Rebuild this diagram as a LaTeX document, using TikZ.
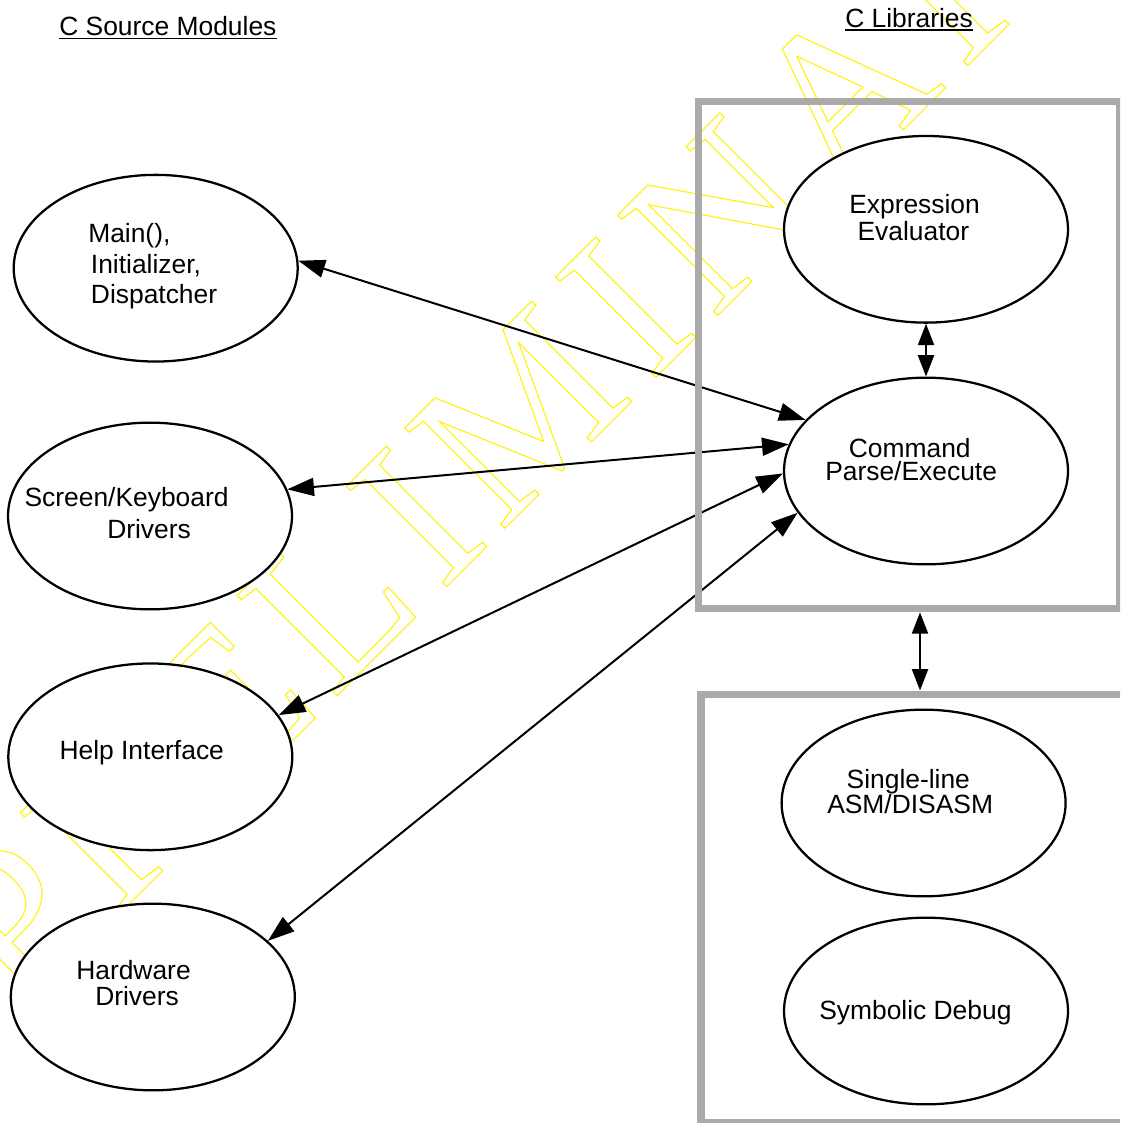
\documentclass[tikz,border=0pt]{standalone}
\usepackage{fontspec}
\setmainfont{Liberation Sans}
\newfontfamily\wmfont{Liberation Serif}
\usetikzlibrary{arrows.meta,shapes.geometric}
\definecolor{boxgray}{RGB}{170,170,170}
\newcommand\wmletter[1]{{\wmfont\fontsize{162pt}{162pt}\selectfont\special{pdf:literal direct 1 Tr 0.8 w}#1\special{pdf:literal direct 0 Tr}}}
\begin{document}
\begin{tikzpicture}[x=0.75pt,y=-0.75pt,
  ell/.style={ellipse, draw, line width=1.7pt, fill=white, minimum width=213pt, minimum height=140pt, inner sep=0pt},
  lbl/.style={anchor=base west, inner sep=0pt, font=\fontsize{19.8pt}{24pt}\selectfont},
  wm/.style={anchor=base west, inner sep=0pt, rotate=45, text=yellow},
  dbl/.style={line width=1.5pt, {Triangle[length=20pt,width=13.5pt]}-{Triangle[length=20pt,width=13.5pt]}},
  dblshort/.style={line width=1.5pt, {Triangle[length=16pt,width=12pt]}-{Triangle[length=16pt,width=12pt]}},
  frame/.style={draw=boxgray, line width=5.6pt},
  uline/.style={line width=1.1pt}
]
\useasboundingbox (0,0) rectangle (1120,1123);
\clip (0,0) rectangle (1120,1123);

% watermark
\node[wm] (w1) at (19.4,1013.6) {\wmletter{P}};
\node[wm] (w2) at (115.6,917.5) {\wmletter{R}};
\node[wm] (w3) at (230.8,802.2) {\wmletter{E}};
\node[wm] (w4) at (332.7,700.2) {\wmletter{L}};
\node[wm] (w5) at (440.9,592.1) {\wmletter{I}};
\node[wm] (w6) at (500.2,532.8) {\wmletter{M}};
\node[wm] (w7) at (650.1,382.9) {\wmletter{I}};
\node[wm] (w8) at (713.1,319.9) {\wmletter{N}};
\node[wm] (w9) at (836.1,196.9) {\wmletter{A}};
\node[wm] (w10) at (962.0,71.0) {\wmletter{R}};
\node[wm] (w11) at (1078.0,-45.0) {\wmletter{Y}};

% ellipses
\node[ell] (main) at (155.7,268.2) {};
\node[ell] (scr) at (150,516) {};
\node[ell] (help) at (150.3,756.8) {};
\node[ell] (hw) at (152.8,997) {};
\node[ell] (expr) at (926,229.3) {};
\node[ell] (cmd) at (926,471) {};
\node[ell] (asm) at (923.6,803) {};
\node[ell] (sym) at (926,1011) {};

% connectors
\draw[dbl] (main.3.7) -- (cmd.157.3);
\draw[dbl] (scr.11.4) -- (cmd.169.5);
\draw[dbl] (help.18.3) -- (cmd.181.2);
\draw[dbl] (hw.26.3) -- (cmd.198);
\draw[dblshort] (expr.south) -- (cmd.north);

% frames
\draw[frame] (698.5,101.5) rectangle (1119.75,608.75);
\draw[frame] (701,694.5) rectangle (1140,1122.5);
\coordinate (b1) at (920,612.3);
\coordinate (b2) at (920,690.5);
\draw[dblshort] (b1) -- (b2);

% titles
\node[lbl] (tsrc) at (59,36) {C Source Modules};
\node[lbl] (tlib) at (845,28) {C Libraries};
\draw[uline] ([yshift=-1.9pt]tsrc.base west) -- ([yshift=-1.9pt]tsrc.base east);
\draw[uline] ([yshift=-1.6pt]tlib.base west) -- ([yshift=-1.6pt]tlib.base east);

% labels
\node[lbl] (m1) at (88,243) {Main(),};
\node[lbl] (m2) at (90.7,273) {Initializer,};
\node[lbl] (m3) at (90.7,303.6) {Dispatcher};
\node[lbl] (s1) at (24.3,506.4) {Screen/Keyboard};
\node[lbl] (s2) at (107,538) {Drivers};
\node[lbl] (h1) at (59.3,759.3) {Help Interface};
\node[lbl] (d1) at (76,979.3) {Hardware};
\node[lbl] (d2) at (95,1005) {Drivers};
\node[lbl] (e1) at (849,213.3) {Expression};
\node[lbl] (e2) at (857.3,240.7) {Evaluator};
\node[lbl] (c1) at (848.6,457) {Command};
\node[lbl] (c2) at (825,480) {Parse/Execute};
\node[lbl] (a1) at (846.4,788) {Single-line};
\node[lbl] (a2) at (827,813) {ASM/DISASM};
\node[lbl] (y1) at (819,1019) {Symbolic Debug};
\end{tikzpicture}
\end{document}
